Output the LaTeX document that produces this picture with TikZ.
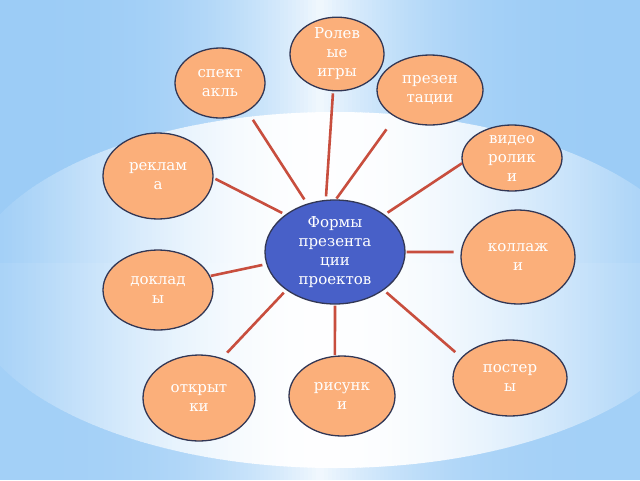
\documentclass[tikz,border=0pt]{standalone}
\usepackage{fontspec}
\setmainfont{DejaVu Serif}
\usetikzlibrary{shapes.geometric}
\definecolor{bgblue}{RGB}{156,204,246}
\definecolor{orangefill}{RGB}{251,175,122}
\definecolor{borderc}{RGB}{50,55,85}
\definecolor{centerblue}{RGB}{72,96,200}
\definecolor{linkred}{RGB}{200,78,62}
\tikzset{
  bub/.style={ellipse, draw=borderc, line width=1.3pt, fill=orangefill, inner sep=0pt,
    text=white, align=center, font=\fontsize{15}{19}\selectfont},
  hub/.style={bub, fill=centerblue},
  link/.style={draw=linkred, line width=2.6pt},
}
\begin{document}
\begin{tikzpicture}[x=1pt,y=-1pt]
\useasboundingbox (0,0) rectangle (640,480);
% background strips (solid colours)
\foreach \i in {0,...,160}{
  \pgfmathsetmacro\xa{4*\i}
  \pgfmathsetmacro\tq{min(1,abs(\xa+2-320)/320)}
  \pgfmathsetmacro\wf{0.85*(1-\tq)*(1-\tq)*(1-\tq)}
  \pgfmathsetmacro\pa{100*\wf}
  \pgfmathsetmacro\pb{100*(\wf+(1-\wf)*0.07)}
  \fill[white!\pa!bgblue] (\xa,0) rectangle (\xa+4.6,263.4);
  \fill[white!\pb!bgblue] (\xa,263) rectangle (\xa+4.6,480);
}
% glow
\begin{scope}
  \clip (335,290) ellipse (370 and 178);
  \foreach \i in {0,...,160}{
    \pgfmathsetmacro\xa{4*\i}
    \pgfmathsetmacro\tq{min(1,abs(\xa+2-320)/320)}
    \pgfmathsetmacro\wf{0.85*(1-\tq)*(1-\tq)*(1-\tq)}
    \pgfmathsetmacro\wg{\wf+(1-\wf)*0.07}
    \pgfmathsetmacro\dd{min(0.999,abs(\xa+2-335)/370)}
    \pgfmathsetmacro\g{0.95*(1-\dd*\dd)^1.5}
    \pgfmathsetmacro\pa{min(100,100*(\wf+(1-\wf)*\g))}
    \pgfmathsetmacro\pb{min(100,100*(\wg+(1-\wg)*\g))}
    \fill[white!\pa!bgblue] (\xa,100) rectangle (\xa+4.6,263.4);
    \fill[white!\pb!bgblue] (\xa,263) rectangle (\xa+4.6,480);
  }
\end{scope}
% nodes
\node[hub, minimum width=140pt, minimum height=104pt] (c) at (335,252) {Формы\\презента\\ции\\проектов};
\node[bub, minimum width=94pt, minimum height=72pt] (r) at (337,54) {Ролев\\ые\\игры};
\node[bub, minimum width=90pt, minimum height=70pt] (s) at (220,83) {спект\\акль};
\node[bub, minimum width=106pt, minimum height=70pt] (p) at (430,90) {презен\\тации};
\node[bub, minimum width=110pt, minimum height=86pt] (k) at (158,176) {реклам\\а};
\node[bub, minimum width=100pt, minimum height=66pt] (v) at (512,158) {видео\\ролик\\и};
\node[bub, minimum width=114pt, minimum height=94pt] (l) at (518,257) {коллаж\\и};
\node[bub, minimum width=110pt, minimum height=80pt] (d) at (158,290) {доклад\\ы};
\node[bub, minimum width=114pt, minimum height=76pt] (t) at (510,378) {постер\\ы};
\node[bub, minimum width=106pt, minimum height=80pt] (n) at (342,396) {рисунк\\и};
\node[bub, minimum width=112pt, minimum height=86pt] (o) at (199,398) {открыт\\ки};
% connectors
\draw[link, shorten <=5pt, shorten >=10pt] (c.120) -- (s.-46);
\draw[link, shorten <=3.5pt, shorten >=2pt] (c.100) -- (r.-96);
\draw[link, shorten <=1pt, shorten >=15pt] (c.89) -- (p.-142);
\draw[link, shorten <=3.5pt, shorten >=0pt] (c.37) -- (v.-174);
\draw[link, shorten <=3.5pt, shorten >=2pt] (c.143) -- (k.-2);
\draw[link, shorten <=4pt, shorten >=0.5pt] (c.190) -- (d.15);
\draw[link, shorten <=1pt, shorten >=7pt] (c.0) -- (l.175.5);
\draw[link, shorten <=3.6pt, shorten >=7.5pt] (c.-142) -- (o.60.5);
\draw[link, shorten <=1pt, shorten >=0.5pt] (c.-90) -- (n.100);
\draw[link, shorten <=3.6pt, shorten >=8pt] (c.-38) -- (t.157.7);
\end{tikzpicture}
\end{document}
